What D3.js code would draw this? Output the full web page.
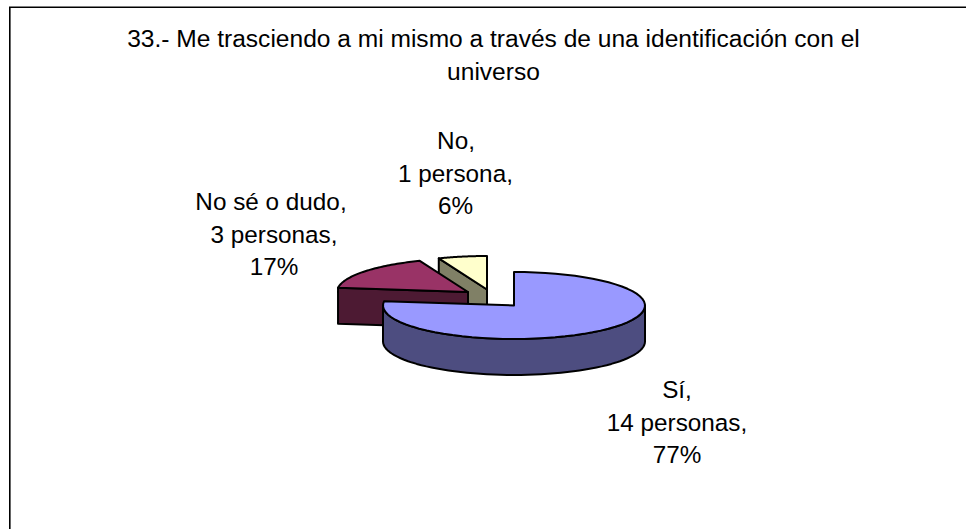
<!DOCTYPE html>
<html>
<head>
<meta charset="utf-8">
<script src="https://cdn.jsdelivr.net/npm/d3@7"></script>
<style>
  html, body { margin: 0; padding: 0; background: #fff; }
  svg { display: block; }
  text { font-family: "Liberation Sans", Arial, sans-serif; font-size: 24.3px; fill: #000; }
  text.title { font-size: 24.55px; }
</style>
</head>
<body>
<div id="chart"></div>
<script>
const categories = ['Sí', 'No sé o dudo', 'No'];
const people = ['14 personas', '3 personas', '1 persona'];
const percents = [77, 17, 6];
const titleLines = ['33.- Me trasciendo a mi mismo a través de una identificación con el', 'universo'];

const topColors = ['#9999ff', '#993366', '#ffffcc'];
const sideColors = ['#4d4d80', '#4d1a33', '#808066'];

const width = 966;
const height = 529;

const svg = d3.select('#chart').append('svg')
  .attr('width', width)
  .attr('height', height);

// Marco
svg.append('path')
  .attr('d', `M9.8,${height}V7.2H${width}`)
  .attr('fill', 'none')
  .attr('stroke', '#000')
  .attr('stroke-width', 1.6);

svg.selectAll('.title')
  .data(titleLines)
  .enter()
  .append('text')
  .attr('class', 'title')
  .attr('x', 493.5)
  .attr('y', (d, i) => 47 + i * 33)
  .attr('text-anchor', 'middle')
  .text(d => d);

const rx = 131;
const ry = 33.5;
const depth = 36;
// centro de cada porción (separadas)
const centers = [[514, 305.5], [468, 292], [487, 289.5]];
// centro de cada línea de etiqueta, primera línea base
const labelX = [[677, 677, 677], [271, 274, 274], [456, 455.5, 455.5]];
const labelY = [398, 210, 149];

const pie = d3.pie().sort(null)(percents);
const xs = d3.scaleLinear().domain([-1, 1]).range([-rx, rx]);
const ys = d3.scaleLinear().domain([-1, 1]).range([-ry, ry]);
const pt = (c, a, dy = 0) => [c[0] + xs(Math.sin(a)), c[1] + ys(-Math.cos(a)) + dy];
const line = d3.line();

const arcPoints = (c, a0, a1, dy = 0) =>
  d3.range(0, 61).map(i => pt(c, a0 + (a1 - a0) * i / 60, dy));

const strokeIt = sel => sel
  .attr('stroke', '#000')
  .attr('stroke-width', 2)
  .attr('stroke-linejoin', 'round');

// De atrás hacia adelante: No, No sé, Sí
[2, 1, 0].forEach(i => {
  const c = centers[i];
  const a0 = pie[i].startAngle;
  const a1 = pie[i].endAngle;
  const g = svg.append('g');

  // pared de corte visible
  if (i > 0) {
    const e = pt(c, a0);
    g.append('path')
      .attr('d', line([c, e, [e[0], e[1] + depth], [c[0], c[1] + depth]]) + 'Z')
      .attr('fill', sideColors[i])
      .call(strokeIt);
  }
  // pared exterior (solo la mitad de adelante)
  const w0 = Math.max(a0, Math.PI / 2);
  const w1 = Math.min(a1, Math.PI * 1.5);
  if (w1 > w0) {
    g.append('path')
      .attr('d', line([...arcPoints(c, w0, w1), ...arcPoints(c, w1, w0, depth)]) + 'Z')
      .attr('fill', sideColors[i])
      .call(strokeIt);
  }
  // tapa
  g.append('path')
    .attr('d', line([c, ...arcPoints(c, a0, a1)]) + 'Z')
    .attr('fill', topColors[i])
    .call(strokeIt);
});

// Etiquetas
categories.forEach((cat, i) => {
  const t = svg.append('text').attr('text-anchor', 'middle');
  [`${cat},`, `${people[i]},`, `${percents[i]}%`].forEach((s, j) => {
    t.append('tspan')
      .attr('x', labelX[i][j])
      .attr('y', labelY[i] + j * 32.5)
      .text(s);
  });
});
</script>
</body>
</html>
